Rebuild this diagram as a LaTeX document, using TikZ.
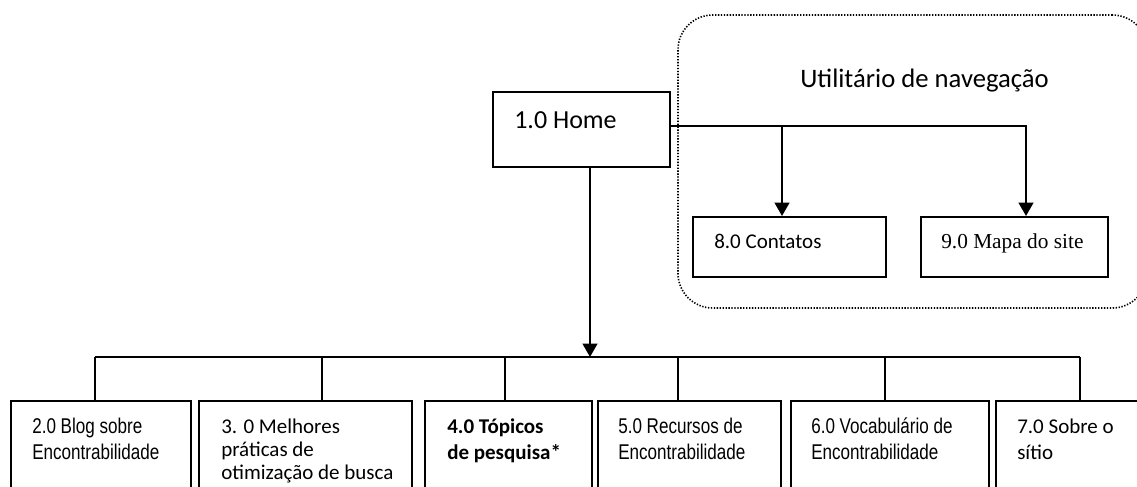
\documentclass[tikz,border=0pt]{standalone}
\usepackage{fontspec}
\setmainfont{Carlito}
\newfontfamily\arialn[FakeStretch=0.8]{Liberation Sans}
\newfontfamily\timesf{Liberation Serif}
\usetikzlibrary{positioning,fit,calc,arrows.meta}

\tikzset{
  box/.style={draw, line width=1.5pt, inner sep=0pt},
  group/.style={draw, line width=1.2pt, dash pattern=on 1pt off 1.2pt, rounded corners=26pt, inner sep=0pt},
  cal/.style={anchor=north west, inner sep=0pt, align=left, font=\fontsize{15.75}{17.25}\selectfont},
  ari/.style={cal, font=\arialn\fontsize{16}{19.5}\selectfont},
  link/.style={line width=1.4pt},
  down/.style={line width=1.6pt, -{Triangle[width=11pt,length=10pt]}},
}

\begin{document}
\begin{tikzpicture}[x=0.75pt, y=-0.75pt]

  \useasboundingbox (0,0) rectangle (1137,486);
  \clip (0,0) rectangle (1137,486);

  % utility group
  \node[group, fit={(678,15) (1147,308)}] (navgroup) {};
  \node[anchor=base west, inner sep=0pt, font=\fontsize{20}{24}\selectfont] (navlbl) at (800,87) {Utilitário de navegação};

  \node[box, fit={(493,92) (670,167)}] (home) {};
  \node[anchor=base west, inner sep=0pt, font=\fontsize{19.5}{23}\selectfont] (homelbl) at (514,128) {1.0 Home};

  \node[box, fit={(693,217) (886,277)}] (c8) {};
  \node[anchor=base west, inner sep=0pt, font=\fontsize{15.75}{19}\selectfont] (c8lbl) at (714,248) {8.0 Contatos};
  \node[box, fit={(921,217) (1108,277)}] (c9) {};
  \node[anchor=base west, inner sep=0pt, font=\timesf\fontsize{16}{19}\selectfont] (c9lbl) at (941,248) {9.0 Mapa do site};

  \coordinate (hout) at ($(home.east)+(0,-3.5)$);
  \coordinate (in8) at ($(c8.north)+(-7.5,0)$);
  \coordinate (in9) at ($(c9.north)+(11.5,0)$);
  \draw[down] (hout) -| (in9);
  \draw[down] (in8 |- hout) -- (in8);

  % second level
  \node[box, fit={(11,401) (191,492)}]   (b2) {};
  \node[box, fit={(199,401) (412,492)}]  (b3) {};
  \node[box, fit={(425,401) (592,492)}]  (b4) {};
  \node[box, fit={(598,401) (781,492)}]  (b5) {};
  \node[box, fit={(791,401) (989,492)}]  (b6) {};
  \node[box, fit={(996,401) (1145,492)}] (b7) {};

  \node[ari] (b2lbl) at (32,415)   {\strut 2.0 Blog sobre\\Encontrabilidade};
  \node[cal] (b3lbl) at (221,417)  {\strut 3. 0 Melhores\\práticas de\\otimização de busca};
  \node[cal, font=\bfseries\fontsize{15.75}{19.5}\selectfont] (b4lbl) at (447,415) {\strut 4.0 Tópicos\\de pesquisa*};
  \node[ari] (b5lbl) at (618,415)  {\strut 5.0 Recursos de\\Encontrabilidade};
  \node[ari] (b6lbl) at (811,415)  {\strut 6.0 Vocabulário de\\Encontrabilidade};
  \node[cal, font=\fontsize{15.75}{19.5}\selectfont] (b7lbl) at (1017,415) {\strut 7.0 Sobre o\\sítio};

  \foreach \n/\x in {2/95, 3/322, 4/505, 5/678, 6/885, 7/1080} {
    \coordinate (d\n) at (\x,357);
    \draw[link] (d\n) -- (d\n |- b\n.north);
  }
  \draw[link] (d2) -- (d7);

  \coordinate (hdown) at ($(home.south)+(8.5,0)$);
  \draw[down] (hdown) -- (hdown |- d2);

\end{tikzpicture}
\end{document}
